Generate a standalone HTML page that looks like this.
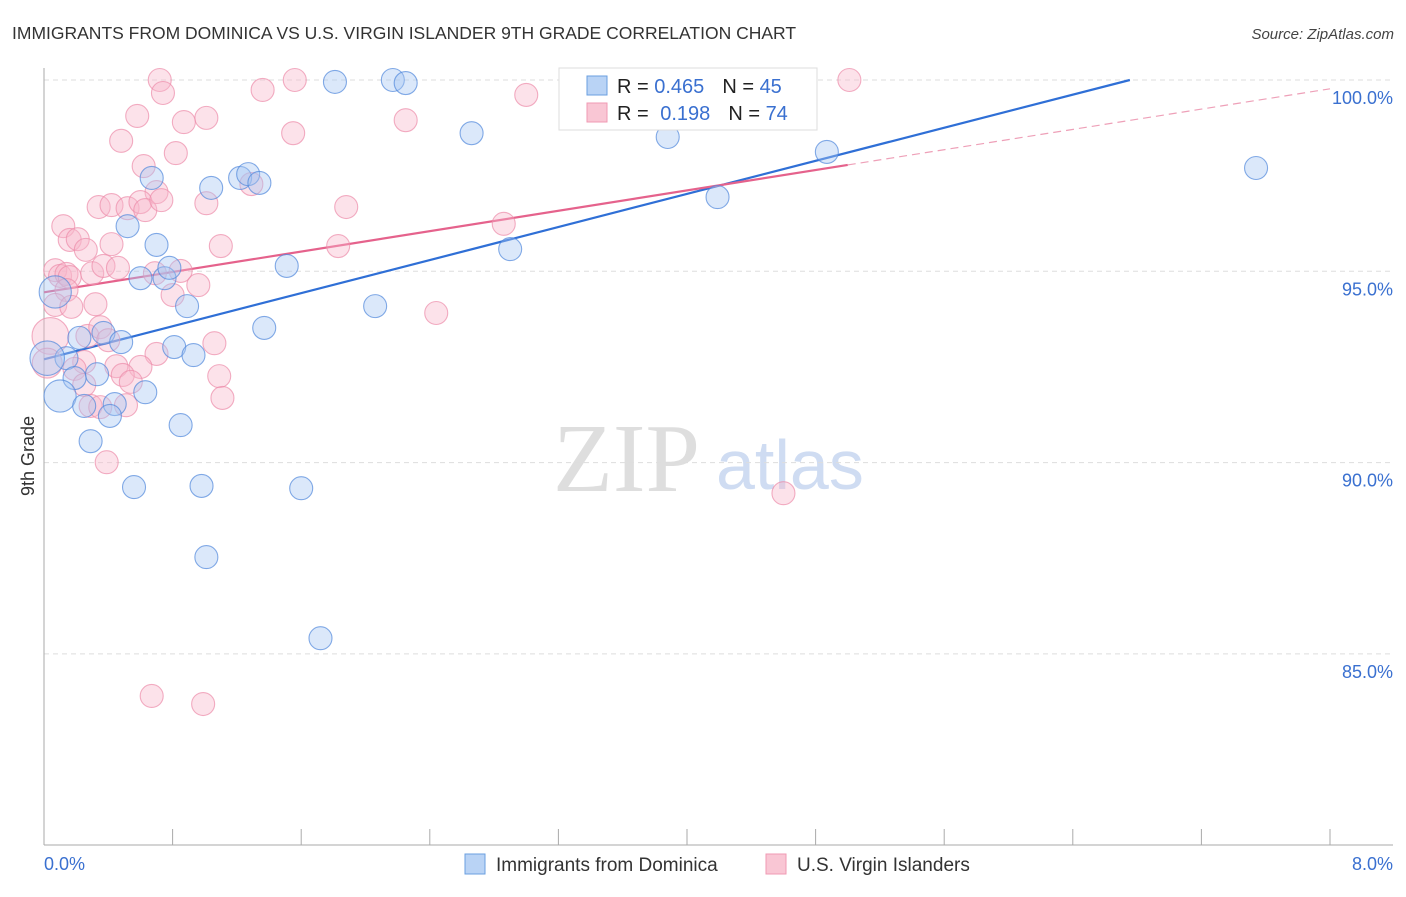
<!DOCTYPE html>
<html><head><meta charset="utf-8"><style>
body{margin:0;background:#fff;}
svg text{font-family:"Liberation Sans",sans-serif;}
</style></head><body>
<svg id="chart" width="1406" height="892" viewBox="0 0 1406 892" xmlns="http://www.w3.org/2000/svg">
<text x="12" y="39" font-size="17.5" fill="#333">IMMIGRANTS FROM DOMINICA VS U.S. VIRGIN ISLANDER 9TH GRADE CORRELATION CHART</text>
<text x="1394" y="39" font-size="15" fill="#444" text-anchor="end" font-style="italic">Source: ZipAtlas.com</text>
<g>
<text x="553" y="491" font-size="98" fill="#dedede" style="font-family:'Liberation Serif',serif">ZIP</text>
<text x="716" y="489" font-size="70" fill="#cfdcf2">atlas</text>
</g>
<g id="grid"></g>
<g id="axes"></g>
<g id="lines"></g>
<g id="points"></g>
<text transform="translate(34,456) rotate(-90)" font-size="18" fill="#333" text-anchor="middle">9th Grade</text>
<g>
<rect x="559" y="68" width="258" height="62" fill="#fff" stroke="#ddd"/>
<rect x="587" y="76" width="20" height="19" fill="#b9d3f5" stroke="#6a9fe0"/>
<rect x="587" y="103" width="20" height="19" fill="#f9c6d4" stroke="#f09ab3"/>
<text x="617" y="93" font-size="20" fill="#222">R = <tspan fill="#3a70d0">0.465</tspan><tspan dx="18">N = </tspan><tspan fill="#3a70d0">45</tspan></text>
<text x="617" y="120" font-size="20" fill="#222">R = <tspan fill="#3a70d0" dx="6">0.198</tspan><tspan dx="18">N = </tspan><tspan fill="#3a70d0">74</tspan></text>
</g>
<g>
<rect x="465" y="854" width="20" height="20" fill="#b9d3f5" stroke="#6a9fe0"/>
<text x="496" y="871" font-size="19" fill="#333">Immigrants from Dominica</text>
<rect x="766" y="854" width="20" height="20" fill="#f9c6d4" stroke="#f09ab3"/>
<text x="797" y="871" font-size="19" fill="#333">U.S. Virgin Islanders</text>
</g>
</svg>
<script>
const xTicks=[0,0.8,1.6,2.4,3.2,4.0,4.8,5.6,6.4,7.2,8.0];
const yTicks=[100,95,90,85];
const yTickLabels=["100.0%","95.0%","90.0%","85.0%"];
const xTickLabels=["0.0%","8.0%"];
const blueX=[1.81,2.17,2.25,2.66,3.88,4.87,7.54,4.19,2.90,0.67,1.04,1.22,1.27,1.34,0.52,0.70,1.51,0.60,0.75,0.78,0.89,2.06,1.37,0.07,0.22,0.37,0.48,0.81,0.93,0.14,0.02,0.33,0.19,0.10,0.63,0.25,0.44,0.41,0.85,0.29,0.56,0.98,1.60,1.01,1.72];
const blueY=[99.95,100,99.92,98.61,98.51,98.12,97.70,96.94,95.58,97.44,97.18,97.44,97.54,97.31,96.18,95.69,95.14,94.82,94.82,95.09,94.09,94.09,93.52,94.46,93.26,93.39,93.15,93.02,92.81,92.73,92.73,92.31,92.21,91.74,91.84,91.48,91.53,91.22,90.98,90.56,89.36,89.39,89.33,87.53,85.41];
const blueSize=[1,1,1,1,1,1,1,1,1,1,1,1,1,1,1,1,1,1,1,1,1,1,1,1.4,1,1,1,1,1,1,1.5,1,1,1.4,1,1,1,1,1,1,1,1,1,1,1];
const pinkX=[0.72,1.56,5.01,0.74,1.36,3.00,0.58,1.01,0.87,2.25,1.55,0.48,0.82,0.62,0.70,1.29,0.34,0.42,0.52,0.60,0.63,0.73,1.01,1.88,2.86,0.12,0.16,0.21,0.26,0.42,1.10,1.83,0.07,0.10,0.14,0.16,0.30,0.37,0.46,0.69,0.85,0.96,0.80,0.14,0.07,0.17,0.32,2.44,0.04,0.27,0.35,0.40,1.06,0.70,0.25,0.19,0.45,0.60,0.49,0.54,0.25,1.09,1.11,0.29,0.35,0.51,0.39,4.60,0.67,0.99,0.02];
const pinkY=[100,100,100,99.66,99.74,99.61,99.06,99.01,98.90,98.95,98.61,98.41,98.09,97.75,97.07,97.28,96.68,96.73,96.65,96.81,96.60,96.86,96.78,96.68,96.24,96.18,95.82,95.84,95.56,95.71,95.66,95.66,95.03,94.88,94.93,94.85,94.95,95.14,95.09,94.95,95.01,94.64,94.38,94.51,94.12,94.07,94.14,93.91,93.31,93.31,93.54,93.20,93.12,92.84,92.63,92.45,92.52,92.50,92.29,92.11,92.03,92.26,91.69,91.48,91.45,91.50,90.01,89.20,83.90,83.69,92.6];
const pinkSize=[1,1,1,1,1,1,1,1,1,1,1,1,1,1,1,1,1,1,1,1,1,1,1,1,1,1,1,1,1,1,1,1,1,1,1,1,1,1,1,1,1,1,1,1,1,1,1,1,1.6,1,1,1,1,1,1,1,1,1,1,1,1,1,1,1,1,1,1,1,1,1,1.3];
const blueLine=[0,92.7,6.755,100];
const pinkLine=[0,94.45,5.0,97.78,8.0,99.77];
const NS="http://www.w3.org/2000/svg";
const X0=44,X1=1330,Y100=80,PX5=191.3;
function sx(v){return X0+(v/8)*(X1-X0);}
function sy(v){return Y100+(100-v)/5*PX5;}
function mk(tag,attrs,parent){const e=document.createElementNS(NS,tag);for(const k in attrs)e.setAttribute(k,attrs[k]);parent.appendChild(e);return e;}
const grid=document.getElementById('grid'),axes=document.getElementById('axes'),lines=document.getElementById('lines'),pts=document.getElementById('points');
yTicks.forEach((t,i)=>{
 const l=mk('line',{x1:44,x2:1393,y1:sy(t),y2:sy(t),stroke:'#ddd','stroke-dasharray':'5,4'},grid);
 
 
 const tx=mk('text',{x:1393,y:sy(t)+24,'font-size':18,fill:'#3a70d0','text-anchor':'end'},axes);
 tx.textContent=yTickLabels[i];
 
 
});
mk('line',{x1:44,x2:44,y1:68,y2:845,stroke:'#aaa'},axes);
mk('line',{x1:44,x2:1393,y1:845,y2:845,stroke:'#aaa'},axes);
xTicks.forEach(t=>{
 const l=mk('line',{x1:sx(t),x2:sx(t),y1:829,y2:845,stroke:'#aaa'},axes);
 
 
});
[[0,'start',44],[1,'end',1393]].forEach(([i,a,x])=>{
 const tx=mk('text',{x:x,y:870,'font-size':18,fill:'#3a70d0','text-anchor':a},axes);
 tx.textContent=xTickLabels[i];
 
 
});
function drawPts(xs,ys,ss,fill,stroke,name){
 xs.forEach((x,i)=>{
  const c=mk('circle',{cx:sx(x),cy:sy(ys[i]),r:11.5*ss[i],fill:fill,stroke:stroke,'stroke-width':1.1},pts);
  
  
 });
}
drawPts(pinkX,pinkY,pinkSize,'rgba(248,182,202,0.40)','rgba(236,140,170,0.7)','point-virgin-islanders');
drawPts(blueX,blueY,blueSize,'rgba(165,198,242,0.40)','rgba(80,135,220,0.7)','point-dominica');
let l=mk('line',{x1:sx(blueLine[0]),y1:sy(blueLine[1]),x2:sx(blueLine[2]),y2:sy(blueLine[3]),stroke:'#2f6fd6','stroke-width':2.2},lines);


l=mk('line',{x1:sx(pinkLine[0]),y1:sy(pinkLine[1]),x2:sx(pinkLine[2]),y2:sy(pinkLine[3]),stroke:'#e5628c','stroke-width':2.2},lines);


l=mk('line',{x1:sx(pinkLine[2]),y1:sy(pinkLine[3]),x2:sx(pinkLine[4]),y2:sy(pinkLine[5]),stroke:'#eea0b8','stroke-width':1.2,'stroke-dasharray':'8,5'},lines);


</script>
</body></html>
